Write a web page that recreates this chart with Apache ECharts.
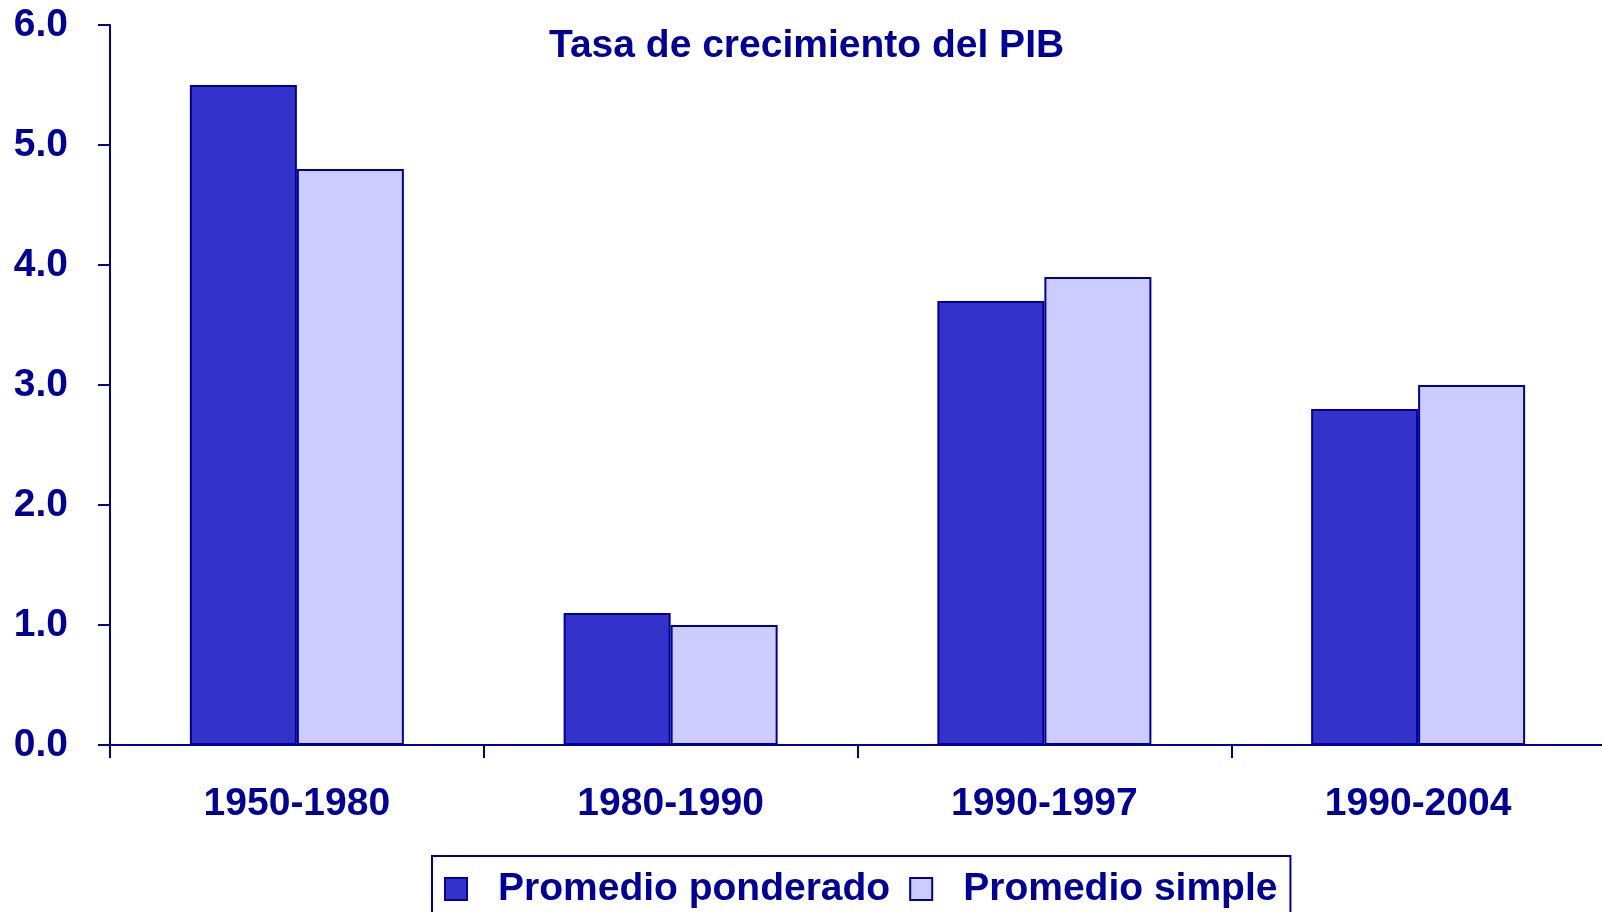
<!DOCTYPE html>
<html>
<head>
<meta charset="utf-8">
<script src="https://cdn.jsdelivr.net/npm/echarts@6/dist/echarts.min.js"></script>
<style>html,body{margin:0;padding:0;background:#fff;}#c{width:1602px;height:912px;}</style>
</head>
<body>
<div id="c"></div>
<script>
const categories = ['1950-1980', '1980-1990', '1990-1997', '1990-2004'];
const ponderado = [5.5, 1.1, 3.7, 2.8];
const simple = [4.8, 1.0, 3.9, 3.0];
const seriesNames = ['Promedio ponderado', 'Promedio simple'];
const titleText = 'Tasa de crecimiento del PIB';

const navy = '#000099';
const font = '"Liberation Sans", Arial, sans-serif';
const chart = echarts.init(document.getElementById('c'), null, {renderer: 'canvas'});
chart.setOption({
  animation: false,
  backgroundColor: '#ffffff',
  title: {
    text: titleText,
    left: 549, top: 27, padding: 0,
    textStyle: {color: navy, fontFamily: font, fontWeight: 'bold', fontSize: 39}
  },
  legend: {
    data: seriesNames,
    left: 432, top: 856,
    padding: [11, 13, 12, 12],
    borderColor: navy, borderWidth: 2,
    itemWidth: 22, itemHeight: 22, itemGap: 19,
    icon: 'rect',
    textStyle: {color: navy, fontFamily: font, fontWeight: 'bold', fontSize: 39, lineHeight: 44, padding: [0, 0, 0, 26]}
  },
  grid: {left: 110, top: 25, width: 1495, height: 720, containLabel: false, outerBoundsMode: 'none'},
  xAxis: {
    type: 'category', data: categories, boundaryGap: true,
    axisLine: {lineStyle: {color: navy, width: 2}},
    axisTick: {show: true, length: 13, lineStyle: {color: navy, width: 2}, alignWithLabel: false},
    axisLabel: {color: navy, fontFamily: font, fontWeight: 'bold', fontSize: 39, margin: 40},
    splitLine: {show: false}
  },
  yAxis: {
    type: 'value', min: 0, max: 6, interval: 1,
    axisLine: {show: true, lineStyle: {color: navy, width: 2}},
    axisTick: {show: true, length: 12, lineStyle: {color: navy, width: 2}},
    axisLabel: {color: navy, fontFamily: font, fontWeight: 'bold', fontSize: 39, margin: 42,
      formatter: v => v.toFixed(1)},
    splitLine: {show: false}
  },
  series: [
    {name: seriesNames[0], type: 'bar', data: ponderado, barWidth: 107, barGap: '0%',
      itemStyle: {color: '#3333CC', borderColor: navy, borderWidth: 2}},
    {name: seriesNames[1], type: 'bar', data: simple, barWidth: 107, barGap: '0%',
      itemStyle: {color: '#CCCCFF', borderColor: navy, borderWidth: 2}}
  ]
});
</script>
</body>
</html>
